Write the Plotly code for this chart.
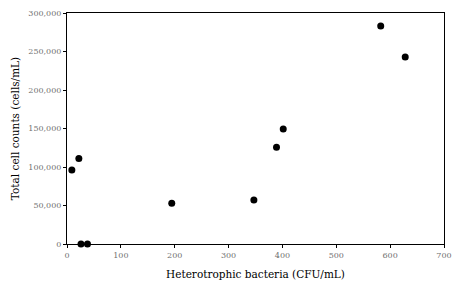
import plotly.graph_objects as go

bacteria = [9, 22, 26, 38, 194.5, 347, 389, 401.5, 582.5, 628]
cell_counts = [96000, 111000, 0, 0, 53000, 57000, 125500, 149500, 283000, 243000]

x_ticks = [0, 100, 200, 300, 400, 500, 600, 700]
y_ticks = [0, 50000, 100000, 150000, 200000, 250000, 300000]
y_labels = ["0", "50,000", "100,000", "150,000", "200,000", "250,000", "300,000"]

fig = go.Figure(go.Scatter(
    x=bacteria, y=cell_counts, mode="markers",
    marker=dict(color="black", size=7),
    cliponaxis=False,
))

fig.update_layout(
    width=461, height=302,
    margin=dict(l=67, r=16, t=9, b=58),
    paper_bgcolor="white", plot_bgcolor="white",
    showlegend=False,
    font=dict(family="DejaVu Serif", color="black"),
)
fig.update_xaxes(
    range=[0, 700], tickvals=x_ticks, ticks="outside", ticklen=3, tickcolor="black",
    showline=True, linecolor="black", linewidth=1, mirror=True,
    showgrid=False, zeroline=False,
    tickfont=dict(size=8, color="#707070", family="DejaVu Serif"),
    title=dict(text="Heterotrophic bacteria (CFU/mL)", font=dict(size=10.5, color="black"), standoff=12),
)
fig.update_yaxes(
    range=[0, 300000], tickvals=y_ticks, ticktext=y_labels, ticks="outside", ticklen=3, tickcolor="black",
    showline=True, linecolor="black", linewidth=1, mirror=True,
    showgrid=False, zeroline=False,
    tickfont=dict(size=8, color="#707070", family="DejaVu Serif"),
    title=dict(text="Total cell counts (cells/mL)", font=dict(size=10.5, color="black"), standoff=6),
)

fig.write_html("out.html")
